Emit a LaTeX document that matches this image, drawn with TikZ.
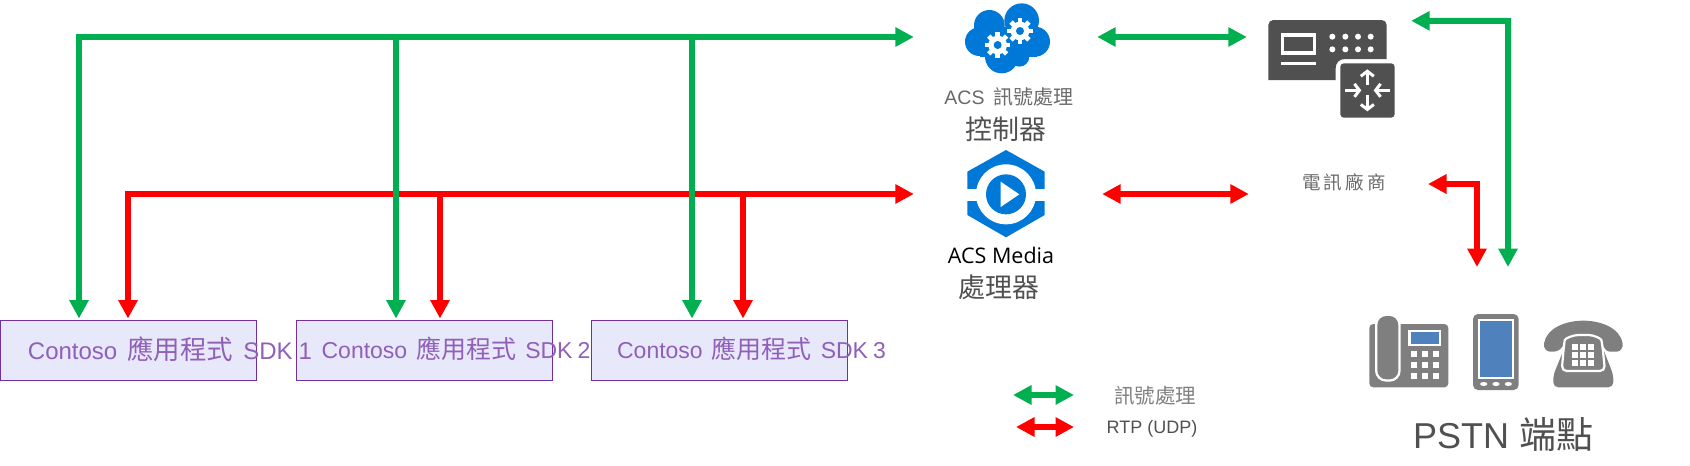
\documentclass[tikz,border=0pt]{standalone}
\usepackage{fontspec}
\setmainfont{Liberation Sans}
\newfontfamily\cjk{Noto Sans CJK TC}
\newfontfamily\cjkwide[LetterSpace=17]{Noto Sans CJK TC}
\newfontfamily\opensans{Open Sans}
\usetikzlibrary{arrows.meta}
\definecolor{sgreen}{HTML}{00B050}
\definecolor{sred}{HTML}{FF0000}
\definecolor{iconblue}{HTML}{0078D7}
\definecolor{devgray}{HTML}{505050}
\definecolor{phonegray}{HTML}{7F7F7F}
\definecolor{phoneblue}{HTML}{4F81BD}
\definecolor{boxfill}{HTML}{E8E8FB}
\definecolor{boxline}{HTML}{7030A0}
\definecolor{boxtext}{HTML}{9060B8}
\newcommand{\fs}[1]{\fontsize{#1}{#1}\selectfont}
\newcommand{\sdktext}[1]{\fs{23}Contoso\hspace{9pt}{\fs{25}\cjk 應用程式}\hspace{9pt}SDK\hspace{5pt}#1}
\newcommand{\gearicon}[2]{
	\fill[white] (#1,#2) circle (28);
	\foreach \a in {0,45,90,135}
		\fill[white,shift={(#1,#2)},rotate=\a] (-7,-38) rectangle (7,38);
	\fill[iconblue] (#1,#2) circle (12);
}
\tikzstyle{sdkbox} = [draw=boxline,fill=boxfill,line width=1pt,minimum width=256pt,minimum height=60pt,inner sep=0pt]
\tikzstyle{sdklabel} = [text=boxtext,inner sep=0pt]
\tikzstyle{iconspot} = [inner sep=0pt,minimum height=20pt]
\tikzstyle{caption} = [inner sep=0pt,text=devgray]
\tikzstyle{greenline} = [draw=sgreen,line width=6pt]
\tikzstyle{redline} = [draw=sred,line width=6pt]
\tikzstyle{bothtips} = [{Triangle[length=18.5pt,width=18.5pt]}-{Triangle[length=18.5pt,width=18.5pt]}]
\tikzstyle{onetip} = [-{Triangle[length=18.5pt,width=18.5pt]},shorten >=1pt]
\tikzstyle{routerarrow} = [draw=white,line width=3pt,-{Straight Barb[length=5pt,width=13pt]}]

\begin{document}
\begin{tikzpicture}[x=1pt,y=-1pt]
	\useasboundingbox (0,0) rectangle (1690,466);
	% sdk boxes
	\node[sdkbox] (s1) at (128.5,350) {};
	\node[sdkbox] (s2) at (424,350) {};
	\node[sdkbox] (s3) at (719,350) {};
	\node[sdklabel] (t1) at (170,349) {\fs{24}Contoso\hspace{10pt}{\fs{26.5}\cjk 應用程式}\hspace{10pt}SDK\hspace{6pt}1};
	\node[sdklabel] (t2) at (456,349) {\sdktext{2}};
	\node[sdklabel] (t3) at (751.5,349) {\sdktext{3}};
	% spots that the connectors end at
	\node[iconspot,minimum width=183pt] (ctrl) at (1005.5,37) {};
	\node[iconspot,minimum width=188pt] (media) at (1008,194) {};
	\node[iconspot,minimum width=164pt] (dev) at (1329,31) {};
	\node[iconspot,minimum width=179pt] (carrier) at (1338.5,194) {};
	\coordinate (gbus) at (79,37);
	\coordinate (g2) at (396,37);
	\coordinate (g3) at (692,37);
	\coordinate (rbus) at (128,194);
	\coordinate (r2) at (440,194);
	\coordinate (r3) at (743,194);
	\coordinate (gturn) at (1508,21);
	\coordinate (gend) at (1508,267);
	\coordinate (rfrom) at (1428,184);
	\coordinate (rturn) at (1477,184);
	\coordinate (rend) at (1477,267);
	\coordinate (lg1) at (1013,395);
	\coordinate (lg2) at (1074,395);
	\coordinate (lr1) at (1016,427);
	\coordinate (lr2) at (1074,427);
	% red first, green passes over it
	\draw[redline,bothtips,shorten <=1pt] (rbus |- s1.north) -- (rbus) -- (media.west);
	\draw[redline,onetip] (r2) -- (r2 |- s2.north);
	\draw[redline,onetip] (r3) -- (r3 |- s3.north);
	\draw[redline,bothtips] (media.east) -- (carrier.west);
	\draw[redline,bothtips] (rfrom) -- (rturn) -- (rend);
	\draw[redline,bothtips] (lr1) -- (lr2);
	\draw[greenline,bothtips,shorten <=1pt] (gbus |- s1.north) -- (gbus) -- (ctrl.west);
	\draw[greenline,onetip] (g2) -- (g2 |- s2.north);
	\draw[greenline,onetip] (g3) -- (g3 |- s3.north);
	\draw[greenline,bothtips] (ctrl.east) -- (ctrl.east -| dev.west);
	\draw[greenline,bothtips] (dev.north east) -- (gturn) -- (gend);
	\draw[greenline,bothtips] (lg1) -- (lg2);
	% cloud
	\begin{scope}[shift={(960,0)},scale=1/3]
		\fill[iconblue] (185,62) circle (52);
		\fill[iconblue] (88,76) circle (46);
		\fill[iconblue] (58,125) circle (43);
		\fill[iconblue] (125,170) circle (50);
		\fill[iconblue] (225,125) circle (45);
		\fill[iconblue] (178,170) circle (30);
		\fill[iconblue] (60,80) rectangle (230,170);
		\gearicon{180}{93}
		\gearicon{113}{135}
	\end{scope}
	% media hexagon
	\begin{scope}[shift={(960,145)},scale=1/3]
		\fill[iconblue] (138,15) -- (254,80) -- (254,210) -- (138,277) -- (22,210) -- (22,80) -- cycle;
		\fill[white] (138,148) circle (90);
		\fill[white] (20,133) rectangle (256,167);
		\fill[iconblue] (138,148) circle (60);
		\fill[white] (122,110) -- (178,148) -- (122,186) -- cycle;
	\end{scope}
	% carrier device and router
	\begin{scope}[shift={(1240,0)},scale=1/3]
		\fill[devgray] (85,240) [rounded corners=5pt] -- (85,60) -- (440,60) [sharp corners] -- (440,177) -- (315,177) .. controls (298,177) and (287,188) .. (287,205) -- (287,240) -- cycle;
		\fill[white] (124,100) rectangle (229,165);
		\fill[devgray] (133,110) rectangle (220,152);
		\fill[white] (124,186) rectangle (229,196);
		\foreach \x in {277,316,354,392}
			\foreach \y in {110,148}
				\fill[white] (\x,\y) circle (9);
		\fill[devgray,rounded corners=3.5pt] (301,190) rectangle (464,353);
		\draw[routerarrow] (315,271) -- (364,271);
		\draw[routerarrow] (450,271) -- (401,271);
		\draw[routerarrow] (382,256) -- (382,208);
		\draw[routerarrow] (382,286) -- (382,334);
	\end{scope}
	% pstn phones
	\begin{scope}[shift={(1365,310)},scale=1/3]
		\fill[phonegray,rounded corners=4pt] (13,42) rectangle (250,232);
		\fill[white,rounded corners=11pt] (30,5) rectangle (107,215);
		\fill[phonegray,rounded corners=9pt] (37,18) rectangle (100,208);
		\fill[white] (130,60) rectangle (228,108);
		\fill[phoneblue] (137,66) rectangle (221,102);
		\foreach \x in {137,170,204}
			\foreach \y in {123,157,190}
				\fill[white] (\x,\y) rectangle +(18,18);
		\fill[phonegray,rounded corners=5pt] (324,12) rectangle (461,240);
		\fill[white] (340,28) rectangle (447,206);
		\fill[phoneblue] (346,34) rectangle (441,200);
		\foreach \x in {356,393,430}
			\fill[white] (\x,222) ellipse (11 and 6);
		\fill[phonegray] (537,100) .. controls (545,55) and (600,32) .. (655,32) .. controls (710,32) and (765,55) .. (773,100) .. controls (775,115) and (765,125) .. (755,125) -- (735,125) .. controls (725,125) and (716,115) .. (712,100) -- (597,100) .. controls (592,115) and (580,125) .. (565,125) -- (555,125) .. controls (545,125) and (535,115) .. (537,100) -- cycle;
		\fill[phonegray,rounded corners=5pt] (600,110) -- (565,195) -- (565,232) -- (745,232) -- (745,195) -- (712,110) -- cycle;
		\draw[white,fill=phonegray,line width=2.2pt,rounded corners=5pt] (590,183) -- (597,105) .. controls (600,85) and (625,75) .. (655,75) .. controls (685,75) and (708,85) .. (712,105) -- (720,183) -- cycle;
		\foreach \x in {622,645,670}
			\foreach \y in {103,127,150}
				\fill[white] (\x,\y) rectangle +(18,18);
	\end{scope}
	% captions
	\node[caption,text=devgray!85] (c1) at (1009,97) {\fs{19.5}ACS\hspace{9pt}{\fs{20}\cjk 訊號處理}};
	\node[caption] (c2) at (1006,129) {\fs{27}\cjk 控制器};
	\node[caption,text=black] (c3) at (1001,255) {\fs{21.5}\opensans ACS Media};
	\node[caption] (c4) at (999,287) {\fs{27}\cjk 處理器};
	\node[caption,text=devgray!85] (c5) at (1344,182) {\fs{18.5}\cjkwide 電訊廠商};
	\node[caption,text=phonegray] (l1) at (1155,396) {\fs{20.5}\cjk 訊號處理};
	\node[caption,text=devgray] (l2) at (1152,429) {\fs{18}RTP (UDP)};
	\node[caption] (c6) at (1503,435) {\fs{36}PSTN {\fs{37}\cjk 端點}};
\end{tikzpicture}
\end{document}
